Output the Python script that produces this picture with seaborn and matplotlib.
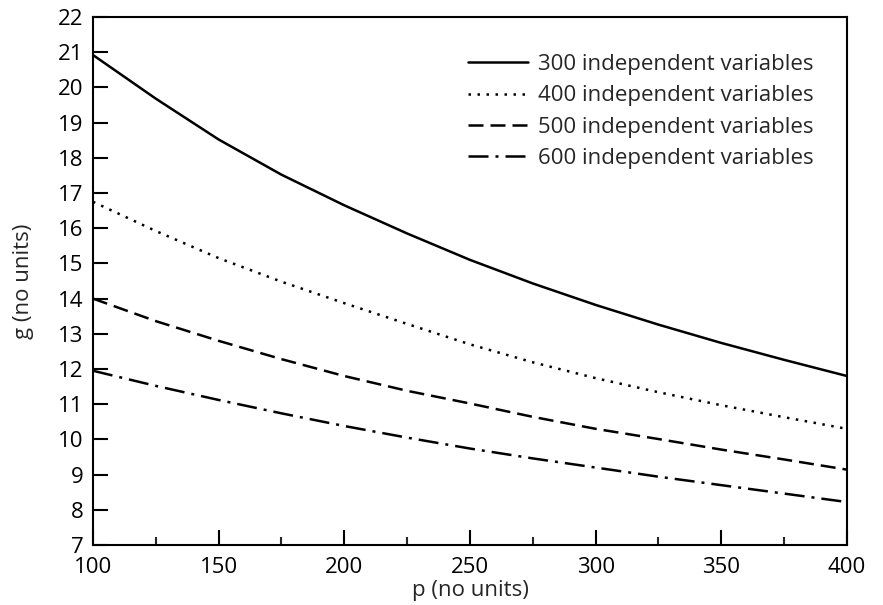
import matplotlib
matplotlib.use("Agg")
import matplotlib.pyplot as plt
import seaborn as sns
import pandas as pd
from matplotlib.ticker import MultipleLocator

# p values (no units)
p_values = [100, 125, 150, 175, 200, 225, 250, 275, 300, 325, 350, 375, 400]

# g values for each number of independent variables
g_300 = [20.92, 19.68, 18.52, 17.52, 16.65, 15.85, 15.10, 14.43, 13.82, 13.26, 12.74, 12.26, 11.80]
g_400 = [16.75, 15.92, 15.15, 14.48, 13.87, 13.28, 12.70, 12.19, 11.74, 11.34, 10.97, 10.63, 10.30]
g_500 = [14.00, 13.36, 12.80, 12.28, 11.80, 11.38, 11.02, 10.64, 10.30, 10.01, 9.71, 9.43, 9.14]
g_600 = [11.95, 11.52, 11.12, 10.74, 10.38, 10.05, 9.74, 9.46, 9.20, 8.94, 8.70, 8.46, 8.22]

series_labels = ["300 independent variables", "400 independent variables",
                 "500 independent variables", "600 independent variables"]

frames = []
for label, vals in zip(series_labels, [g_300, g_400, g_500, g_600]):
    frames.append(pd.DataFrame({"p": p_values, "g": vals, "series": label}))
df = pd.concat(frames, ignore_index=True)

sns.set_style("ticks")
plt.rcParams["font.family"] = ["Open Sans", "DejaVu Sans"]

fig = plt.figure(figsize=(8.83, 6.05), dpi=100)
ax = fig.add_axes([0.1053, 0.0992, 0.8539, 0.8727])

dash_styles = {
    series_labels[0]: "",
    series_labels[1]: (1.0, 2.6),
    series_labels[2]: (6.0, 2.8),
    series_labels[3]: (8.0, 2.8, 1.2, 2.8),
}

LW = 1.8
sns.lineplot(data=df, x="p", y="g", style="series", dashes=dash_styles,
             color="black", linewidth=LW, ax=ax, legend=True)

ax.set_xlim(100, 400)
ax.set_ylim(7, 22)
ax.xaxis.set_major_locator(MultipleLocator(50))
ax.xaxis.set_minor_locator(MultipleLocator(25))
ax.yaxis.set_major_locator(MultipleLocator(1))

ax.tick_params(axis="both", which="major", direction="in", length=11, width=1.5,
               labelsize=16, colors="black")
ax.tick_params(axis="x", which="major", pad=9)
ax.tick_params(axis="y", which="major", pad=7)
ax.tick_params(axis="x", which="minor", direction="in", length=6, width=1.5)
ax.tick_params(axis="y", which="minor", left=False)
for side in ["left", "right", "top", "bottom"]:
    ax.spines[side].set_visible(True)
    ax.spines[side].set_linewidth(1.5)
    ax.spines[side].set_color("black")

ax.set_xlabel("p (no units)", fontsize=16, labelpad=1)
ax.set_ylabel("g (no units)", fontsize=16, labelpad=17)

leg = ax.legend(loc="upper right", bbox_to_anchor=(0.967, 0.947),
                borderaxespad=0, frameon=False, fontsize=16,
                handlelength=2.7, handletextpad=0.45, labelspacing=0.47)
for line in leg.get_lines():
    line.set_linewidth(LW)

fig.savefig("out.png", dpi=100)
